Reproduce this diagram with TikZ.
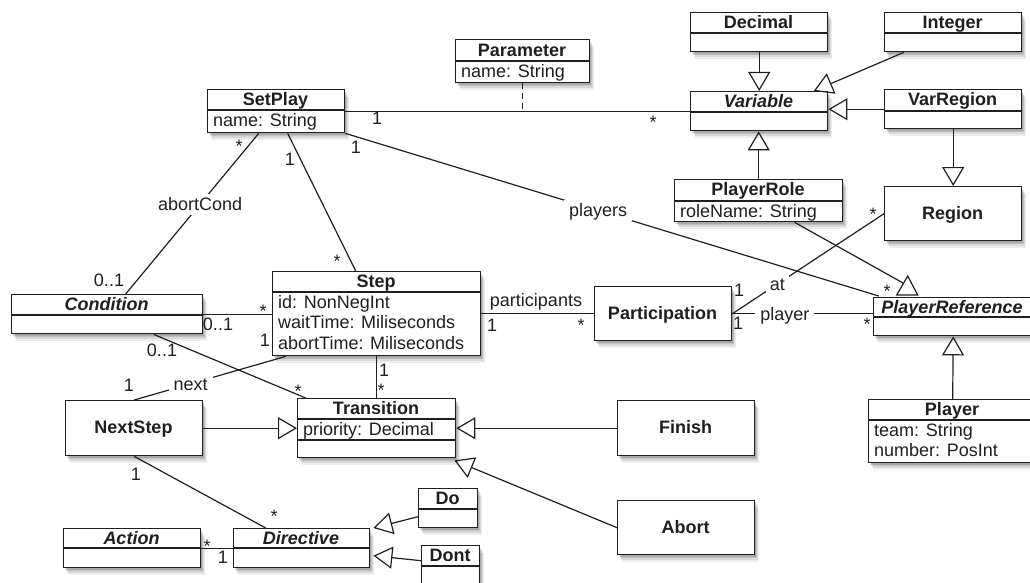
\documentclass[tikz,border=0pt]{standalone}
\usepackage{fontspec}
\setmainfont{Liberation Sans}
\usetikzlibrary{arrows.meta,shadows}
\newcommand{\myfs}{\fontsize{18}{21}\selectfont}
\tikzset{
  ink/.style={draw=black!88, line width=1.2pt},
  inh/.style={ink, -{Triangle[open, length=19pt, width=22pt]}},
  softshadow/.style={
    drop shadow={shadow xshift=1pt, shadow yshift=-2pt, opacity=0.12, fill=black},
    drop shadow={shadow xshift=2pt, shadow yshift=-3.5pt, opacity=0.11, fill=black},
    drop shadow={shadow xshift=3pt, shadow yshift=-5pt, opacity=0.09, fill=black},
    drop shadow={shadow xshift=4pt, shadow yshift=-7pt, opacity=0.07, fill=black}},
  box/.style={draw=black!88, line width=1.4pt, fill=white, rectangle, inner sep=0pt, anchor=north west, softshadow},
  lbl/.style={font=\myfs, text=black!88, text height=12.9pt, text depth=0pt, inner sep=0pt},
  ttl/.style={lbl, font=\myfs\bfseries},
  abs/.style={lbl, font=\myfs\bfseries\itshape},
  attr/.style={lbl, anchor=west},
  onlbl/.style={lbl, fill=white, inner xsep=5pt, inner ysep=4pt},
}
\newcommand{\umlbox}[5]{\node[box, minimum width={(#4-#2)*1pt}, minimum height={(#5-#3)*1pt}] (#1) at (#2,#3) {};}
\newcommand{\divline}[2]{\draw[ink] (#1.west |- 0,#2) -- (#1.east |- 0,#2);}
\begin{document}
\begin{tikzpicture}[x=1pt,y=-1pt]
\useasboundingbox (0,0) rectangle (1030,583);
% boxes
\umlbox{parameter}{455}{39}{589}{82}
\umlbox{setplay}{207}{89}{344}{132}
\umlbox{decimal}{690}{12}{827}{51}
\umlbox{integer}{884}{12}{1021}{51}
\umlbox{variable}{690}{91}{827}{130}
\umlbox{varregion}{884}{89}{1021}{128}
\umlbox{playerrole}{674}{179}{842}{221}
\umlbox{region}{884}{186}{1021}{240}
\umlbox{condition}{11}{294}{202}{333}
\umlbox{step}{272}{271}{480}{355}
\umlbox{participation}{594}{286}{731}{340}
\umlbox{playerref}{873}{297}{1032}{335}
\umlbox{transition}{297}{398}{455}{457}
\umlbox{nextstep}{65}{400}{202}{455}
\umlbox{finish}{617}{400}{754}{455}
\umlbox{abort}{617}{500}{754}{554}
\umlbox{player}{868}{399}{1036}{462}
\umlbox{action}{63}{528}{200}{567}
\umlbox{directive}{233}{528}{369}{567}
\umlbox{do}{418}{488}{477}{527}
\umlbox{dont}{421}{545}{479}{592}
% compartment lines
\divline{parameter}{61}
\divline{setplay}{110}
\divline{decimal}{33}
\divline{integer}{33}
\divline{variable}{112}
\divline{varregion}{111}
\divline{playerrole}{201}
\divline{condition}{315}
\divline{step}{292}
\divline{playerref}{317}
\divline{transition}{419}
\divline{transition}{440}
\divline{player}{420}
\divline{action}{548}
\divline{directive}{548}
\divline{do}{509}
\divline{dont}{566}
% titles
\node[ttl] (t-parameter) at (522,50) {Parameter};
\node[ttl] (t-setplay) at (275.5,99) {SetPlay};
\node[ttl] (t-decimal) at (758.5,22) {Decimal};
\node[ttl] (t-integer) at (952.5,22) {Integer};
\node[abs] (t-variable) at (758.5,101) {Variable};
\node[ttl] (t-varregion) at (952.5,99) {VarRegion};
\node[ttl] (t-playerrole) at (758,189) {PlayerRole};
\node[ttl] (t-region) at (952.5,213) {Region};
\node[abs] (t-condition) at (106.5,304) {Condition};
\node[ttl] (t-step) at (376,281) {Step};
\node[ttl] (t-participation) at (662.5,313) {Participation};
\node[abs] (t-playerref) at (952,307) {PlayerReference};
\node[ttl] (t-transition) at (376,408) {Transition};
\node[ttl] (t-nextstep) at (133.5,427.5) {NextStep};
\node[ttl] (t-finish) at (685.5,427.5) {Finish};
\node[ttl] (t-abort) at (685.5,527) {Abort};
\node[ttl] (t-player) at (952,409) {Player};
\node[abs] (t-action) at (131.5,538) {Action};
\node[abs] (t-directive) at (301,538) {Directive};
\node[ttl] (t-do) at (447.5,498) {Do};
\node[ttl] (t-dont) at (450,555) {Dont};
% attributes
\node[attr] (a-param) at (461,71) {name: String};
\node[attr] (a-setplay) at (213,120) {name: String};
\node[attr] (a-role) at (680,211) {roleName: String};
\node[attr] (a-id) at (278,302) {id: NonNegInt};
\node[attr] (a-wait) at (278,322.5) {waitTime: Miliseconds};
\node[attr] (a-abort) at (278,343) {abortTime: Miliseconds};
\node[attr] (a-prio) at (303,429) {priority: Decimal};
\node[attr] (a-team) at (874,430) {team: String};
\node[attr] (a-number) at (874,450) {number: PosInt};
% generalisations
\draw[inh] (decimal.south) -- (variable.north);
\draw[inh] ([xshift=-49.5pt]integer.south) -- ([xshift=54.5pt]variable.north);
\draw[inh] (varregion.west) -- (varregion.west -| variable.east);
\draw[inh] (playerrole.north) -- (playerrole.north |- variable.south);
\draw[inh] (varregion.south) -- (region.north);
\draw[inh] (player.north) -- (playerref.south);
\draw[inh] (nextstep.east) -- (nextstep.east -| transition.west);
\draw[inh] (finish.west) -- (finish.west -| transition.east);
\draw[inh] (abort.west) -- ([xshift=-2pt,yshift=-2pt]transition.south east);
\draw[inh] ([yshift=-8.5pt]do.west) -- ([xshift=3pt]directive.north east);
\draw[inh] ([yshift=8.5pt]dont.west) -- ([xshift=3pt,yshift=-7.5pt]directive.east);
\coordinate (prside) at (903,283);
\draw[ink] ([xshift=36pt]playerrole.south) -- (prside);
\draw[ink, fill=white] ([xshift=-56.5pt,yshift=2pt]playerref.north) -- ([xshift=-45.5pt,yshift=21pt]playerref.north) -- ([xshift=-35.5pt,yshift=2pt]playerref.north) -- cycle;
% associations
\draw[ink] (setplay.east) -- (setplay.east -| variable.west);
\draw[ink, dash pattern=on 6pt off 4pt] (parameter.south) -- (parameter.south |- setplay.east);
\draw[ink] (setplay.south east) -- node[onlbl, pos=0.474] (l-players) {players} ([xshift=-74.5pt,yshift=1pt]playerref.north);
\draw[ink] ([xshift=-17.5pt]setplay.south) -- node[onlbl, pos=0.44] (l-abort) {abortCond} ([xshift=18.5pt]condition.north);
\draw[ink] ([xshift=11.5pt]setplay.south) -- ([xshift=-21pt]step.north);
\draw[ink] (condition.east) -- (condition.east -| step.west);
\draw[ink] ([xshift=46.5pt]condition.south) -- ([xshift=-71pt]transition.north);
\draw[ink] (step.south) -- (transition.north);
\draw[ink] ([xshift=-91pt]step.south) -- node[onlbl, pos=0.627] (l-next) {next} (nextstep.north);
\draw[ink] (step.east) -- (step.east -| participation.west);
\node[onlbl, inner ysep=3pt] (l-part) at (536,300) {participants};
\draw[ink] (participation.east) -- node[onlbl, pos=0.373] (l-player) {player} (participation.east -| playerref.west);
\draw[ink] (participation.east) -- node[onlbl, inner xsep=4pt, pos=0.296] (l-at) {at} (region.west);
\draw[ink] (nextstep.south) -- ([xshift=-36pt]directive.north);
\draw[ink] (action.east) -- (directive.west);
% multiplicities
\node[lbl] (m1) at (377,118) {1};
\node[lbl] (m2) at (653,122) {*};
\node[lbl] (m3) at (239,146) {*};
\node[lbl] (m4) at (109,280) {0..1};
\node[lbl] (m5) at (290,159) {1};
\node[lbl] (m6) at (337,261) {*};
\node[lbl] (m7) at (356,147) {1};
\node[lbl] (m8) at (887,291) {*};
\node[lbl] (m9) at (873,214) {*};
\node[lbl] (m10) at (739,290) {1};
\node[lbl] (m11) at (867,324) {*};
\node[lbl] (m12) at (738,323) {1};
\node[lbl] (m13) at (492,325) {1};
\node[lbl] (m14) at (581,325) {*};
\node[lbl] (m15) at (263,311) {*};
\node[lbl] (m16) at (218,324) {0..1};
\node[lbl] (m17) at (265,340) {1};
\node[lbl] (m18) at (129,385) {1};
\node[lbl] (m19) at (162,350) {0..1};
\node[lbl] (m20) at (298,391) {*};
\node[lbl] (m21) at (384,370) {1};
\node[lbl] (m22) at (381,390) {*};
\node[lbl] (m23) at (136,474) {1};
\node[lbl] (m24) at (274,516) {*};
\node[lbl] (m25) at (207,546) {*};
\node[lbl] (m26) at (223,557) {1};
\end{tikzpicture}
\end{document}
